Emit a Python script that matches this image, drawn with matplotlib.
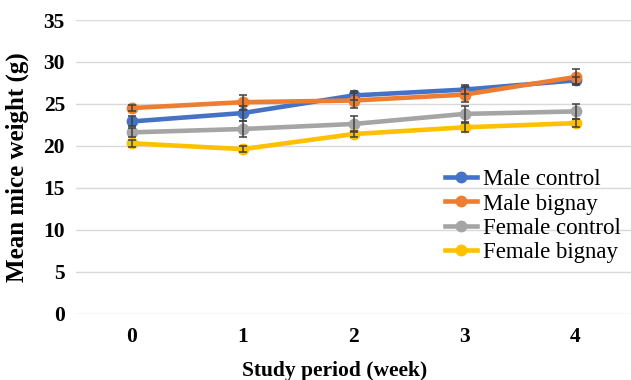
import matplotlib
matplotlib.use("Agg")
import matplotlib.pyplot as plt
import numpy as np

weeks = [0, 1, 2, 3, 4]
male_control = [22.9, 23.9, 26.0, 26.7, 27.8]
male_control_err = [0.6, 0.9, 0.5, 0.5, 0.4]
male_bignay = [24.5, 25.2, 25.4, 26.1, 28.2]
male_bignay_err = [0.4, 0.9, 0.9, 0.9, 0.9]
female_control = [21.6, 22.0, 22.6, 23.8, 24.1]
female_control_err = [0.5, 1.0, 0.9, 1.0, 0.9]
female_bignay = [20.3, 19.6, 21.4, 22.2, 22.7]
female_bignay_err = [0.4, 0.4, 0.4, 0.5, 0.5]

labels = ["Male control", "Male bignay", "Female control", "Female bignay"]
colors = ["#4472C4", "#ED7D31", "#A5A5A5", "#FFC000"]

plt.rcParams['font.family'] = ['Liberation Serif', 'DejaVu Serif']

fig = plt.figure(figsize=(6.31, 3.80), dpi=100)
ax = fig.add_axes([76/631, 1 - 313.5/380, 555/631, (313.5 - 20)/380])

series = [(male_control, male_control_err), (male_bignay, male_bignay_err),
          (female_control, female_control_err), (female_bignay, female_bignay_err)]
for (vals, errs), lab, col in zip(series, labels, colors):
    ax.plot(weeks, vals, color=col, lw=3.3, marker='o', ms=7.5, label=lab, zorder=3)
    ax.errorbar(weeks, vals, yerr=errs, fmt='none', ecolor='#404040', elinewidth=1.1,
                capsize=3, capthick=1.1, zorder=4)

ax.set_xlim(-0.5, 4.5)
ax.set_ylim(0, 35)
ax.set_yticks(np.arange(0, 36, 5))
ax.set_xticks(weeks)
ax.set_xticklabels([str(w) for w in weeks])
ax.grid(axis='y', color='#D9D9D9', lw=1)
ax.set_axisbelow(True)
for s in ax.spines.values():
    s.set_visible(False)
ax.tick_params(axis='both', length=0, labelsize=15.5)
for t in ax.get_xticklabels() + ax.get_yticklabels():
    t.set_fontweight('bold')
ax.tick_params(axis='y', pad=8)
ax.tick_params(axis='x', pad=10)

fig.text(17/631, 1 - 167/380, "Mean mice weight (g)", rotation=90, ha='center', va='center',
         fontsize=18, fontweight='bold')
fig.text(335/631, 1 - 371/380, "Study period (week)", ha='center', va='center',
         fontsize=15.5, fontweight='bold')

leg = fig.legend(loc='upper left', bbox_to_anchor=(445/631, 1 - 169/380), frameon=False,
                 fontsize=16.5, handlelength=1.4, handletextpad=0.25, labelspacing=0.15,
                 borderpad=0, borderaxespad=0)

fig.savefig("out.png", dpi=100)
